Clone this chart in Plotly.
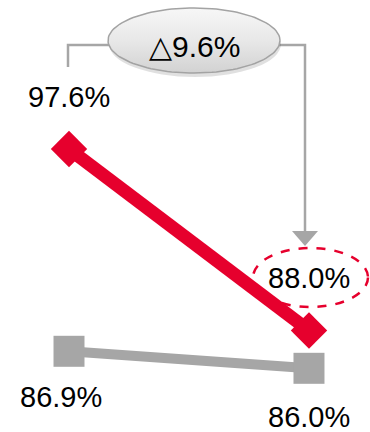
import numpy as np
import plotly.graph_objects as go

# ---- data ----
categories = [0, 1]              # two periods (no axis labels shown)
red_values = [97.6, 88.0]
gray_values = [86.9, 86.0]

W, H = 370, 432
RED = "#E6002D"
GRAY = "#A6A6A6"
FONT = "Liberation Sans, Arial, sans-serif"

X_RANGE = [-0.2875, 1.2542]
Y_RANGE = [82.631, 105.481]


def px(x):
    return x / W


def py(y):
    return 1 - y / H


def dx(x):
    return X_RANGE[0] + x / W * (X_RANGE[1] - X_RANGE[0])


def dy(y):
    return Y_RANGE[1] - y / H * (Y_RANGE[1] - Y_RANGE[0])


def fmt(v):
    return f"{v:.1f}%"


fig = go.Figure()

# decorative gradient ellipse behind the delta label
t = np.linspace(0, 2 * np.pi, 121)
cx, cy, rx, ry = 194, 40.5, 86, 32.5
fig.add_trace(go.Scatter(
    x=[dx(cx + rx * np.cos(a)) for a in t],
    y=[dy(cy + ry * np.sin(a)) for a in t],
    mode="lines", fill="toself",
    line=dict(color="#A3A3A3", width=1.5),
    fillgradient=dict(type="vertical",
                      colorscale=[[0, "#D2D2D2"], [0.5, "#E8E8E8"], [1, "#F7F7F7"]]),
    hoverinfo="skip", showlegend=False))

fig.add_trace(go.Scatter(
    x=categories, y=gray_values, mode="lines+markers",
    line=dict(color=GRAY, width=10),
    marker=dict(symbol="square", size=31, color=GRAY),
    hoverinfo="skip", showlegend=False))
fig.add_trace(go.Scatter(
    x=categories, y=red_values, mode="lines+markers",
    line=dict(color=RED, width=13),
    marker=dict(symbol="diamond", size=28, color=RED),
    hoverinfo="skip", showlegend=False))

annotations = []
# value labels
annotations.append(dict(x=categories[0], y=red_values[0], text=fmt(red_values[0]),
                        yshift=52, showarrow=False))
annotations.append(dict(x=categories[1], y=red_values[1], text=fmt(red_values[1]),
                        yshift=52, showarrow=False))
annotations.append(dict(x=categories[0], y=gray_values[0], text=fmt(gray_values[0]),
                        yshift=-46, xshift=-8, showarrow=False))
annotations.append(dict(x=categories[1], y=gray_values[1], text=fmt(gray_values[1]),
                        yshift=-49, showarrow=False))
for a in annotations:
    a.update(font=dict(family=FONT, size=29, color="black"),
             xanchor="center", yanchor="middle")

delta = red_values[0] - red_values[1]
annotations.append(dict(xref="paper", yref="paper", x=px(195), y=py(47),
                        xanchor="center", yanchor="middle",
                        text=f"△{delta:.1f}%", showarrow=False,
                        font=dict(family=FONT, size=30, color="black")))

shapes = []
# connector line
shapes.append(dict(type="path", xref="paper", yref="paper", layer="below",
                   path=f"M {px(68)},{py(67)} L {px(68)},{py(45)} L {px(305)},{py(45)} L {px(305)},{py(233)}",
                   line=dict(color=GRAY, width=2.5)))
# arrow head
shapes.append(dict(type="path", xref="paper", yref="paper", layer="below",
                   path=f"M {px(292)},{py(231)} L {px(318)},{py(231)} L {px(305)},{py(246)} Z",
                   fillcolor=GRAY, line=dict(width=0)))
# ellipse shadow
shapes.append(dict(type="circle", xref="paper", yref="paper", layer="below",
                   x0=px(109), x1=px(281), y0=py(11), y1=py(77),
                   fillcolor="rgba(0,0,0,0.12)", line=dict(width=0)))
# dashed highlight ellipse
shapes.append(dict(type="circle", xref="paper", yref="paper", layer="below",
                   x0=px(253), x1=px(368), y0=py(248), y1=py(307),
                   fillcolor="rgba(0,0,0,0)", line=dict(color=RED, width=2.5, dash="dash")))

fig.update_layout(
    width=W, height=H,
    margin=dict(l=0, r=0, t=0, b=0),
    paper_bgcolor="white", plot_bgcolor="white",
    xaxis=dict(range=X_RANGE, visible=False, fixedrange=True),
    yaxis=dict(range=Y_RANGE, visible=False, fixedrange=True),
    annotations=annotations, shapes=shapes,
)

fig.write_html("out.html")
